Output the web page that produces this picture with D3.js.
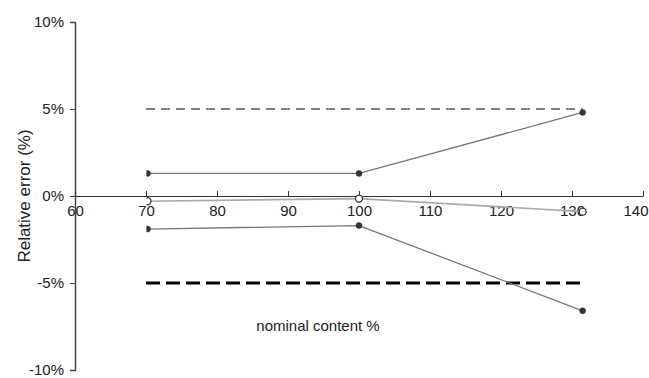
<!DOCTYPE html>
<html><head><meta charset="utf-8">
<script src="https://cdn.jsdelivr.net/npm/d3@7"></script>
<style>body{margin:0;background:#fff}svg{font-family:"Liberation Sans",Arial,sans-serif}</style>
</head><body><svg id="c" width="649" height="378"></svg>
<script>
const xLevels = [70, 100, 131.5];
const seriesUpper = [1.3, 1.3, 4.8];
const seriesMiddle = [-0.3, -0.15, -0.9];
const seriesLower = [-1.9, -1.7, -6.6];
const limitUpper = 5;
const limitLower = -5;
const xTicks = [60, 70, 80, 90, 100, 110, 120, 130, 140];
const yTicks = [-10, -5, 0, 5, 10];

const svg = d3.select("#c");
const x = d3.scaleLinear().domain([60, 140]).range([75, 643]);
const y = d3.scaleLinear().domain([-10, 10]).range([370, 22]);

// y axis
const ya = svg.append("g").attr("transform", `translate(${x(60)},0)`)
  .call(d3.axisLeft(y).tickValues(yTicks).tickSize(5).tickFormat(d => d + "%"));
ya.select(".domain").attr("stroke", "#444").attr("stroke-width", 1.5);
ya.selectAll(".tick line").attr("stroke", "#444");
ya.selectAll(".tick text").attr("font-size", 15).attr("fill", "#222").attr("x", -11);

// x axis at 0
const xa = svg.append("g").attr("transform", `translate(0,${y(0)})`)
  .call(d3.axisBottom(x).tickValues(xTicks).tickSize(-5).tickSizeOuter(0));
xa.select(".domain").attr("stroke", "#333").attr("stroke-width", 1.2);
xa.selectAll(".tick line").attr("stroke", "#333");
xa.selectAll(".tick text").attr("font-size", 15).attr("fill", "#222").attr("y", 9).attr("dy", "0.71em");
xa.selectAll(".tick text").filter(d => d === 140).attr("text-anchor", "end").attr("x", 648 - x(140));

// limit lines
svg.append("line").attr("x1", x(xLevels[0])).attr("x2", x(xLevels[2]))
  .attr("y1", y(limitUpper)).attr("y2", y(limitUpper))
  .attr("stroke", "#555").attr("stroke-width", 1.6).attr("stroke-dasharray", "9,6");
svg.append("line").attr("x1", x(xLevels[0])).attr("x2", x(xLevels[2]))
  .attr("y1", y(limitLower)).attr("y2", y(limitLower))
  .attr("stroke", "#000").attr("stroke-width", 3).attr("stroke-dasharray", "14,6");

svg.append("clipPath").attr("id", "clipR").append("rect")
  .attr("x", x(70) + 0.5).attr("y", 0).attr("width", 649).attr("height", 378);

const line = d3.line().x((d, i) => x(xLevels[i])).y(d => y(d));
const series = [
  {v: seriesUpper, open: false},
  {v: seriesMiddle, open: true},
  {v: seriesLower, open: false}
];
series.forEach(s => {
  const g = svg.append("g").attr("clip-path", "url(#clipR)");
  g.append("path").attr("d", line(s.v)).attr("fill", "none")
    .attr("stroke", s.open ? "#aaa" : "#777").attr("stroke-width", s.open ? 1.6 : 1.3);
  g.selectAll(null).data(s.v).enter().append("circle")
    .attr("cx", (d, i) => x(xLevels[i]) + (i === 0 ? 1.5 : 0)).attr("cy", d => y(d))
    .attr("r", s.open ? 3.5 : 3)
    .attr("fill", s.open ? "#fff" : "#333")
    .attr("stroke", "#333").attr("stroke-width", s.open ? 1.3 : 0.5);
});

svg.append("text").attr("x", 318).attr("y", 331).attr("text-anchor", "middle")
  .attr("font-size", 15).attr("fill", "#222").text("nominal content %");
svg.append("text").attr("transform", `translate(30,${y(0)}) rotate(-90)`)
  .attr("text-anchor", "middle").attr("font-size", 17).attr("fill", "#222").text("Relative error (%)");
</script></body></html>
